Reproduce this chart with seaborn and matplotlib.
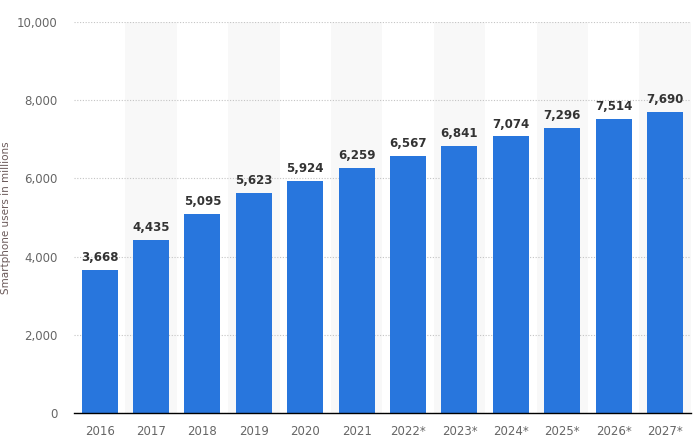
import matplotlib
matplotlib.use("Agg")
from matplotlib import pyplot as plt
import seaborn as sns
import pandas as pd

years = ["2016", "2017", "2018", "2019", "2020", "2021", "2022*", "2023*",
         "2024*", "2025*", "2026*", "2027*"]
users = [3668, 4435, 5095, 5623, 5924, 6259, 6567, 6841, 7074, 7296, 7514, 7690]
y_ticks = [0, 2000, 4000, 6000, 8000, 10000]

df = pd.DataFrame({"year": years, "users": users})

sns.set_style("white")
fig = plt.figure(figsize=(6.96, 4.47), dpi=100)
ax = fig.add_axes([0.1063, 0.0761, 0.8861, 0.8747])

# alternating background columns
for i in range(len(years)):
    if i % 2 == 1:
        ax.axvspan(i - 0.5, i + 0.5, color="#f8f8f8", zorder=0, lw=0)

sns.barplot(data=df, x="year", y="users", color="#2876dd", width=0.7,
            saturation=1, linewidth=0, edgecolor="none", ax=ax, zorder=3)

for i, v in enumerate(users):
    ax.text(i, v + 150, f"{v:,}", ha="center", va="bottom", fontsize=8.5,
            fontweight="semibold", color="#333333", zorder=4)

ax.set_xlim(-0.5, len(years) - 0.5)
ax.set_ylim(0, 10000)
ax.set_yticks(y_ticks)
ax.set_yticklabels([f"{t:,}" for t in y_ticks])
ax.yaxis.grid(True, linestyle=(0, (1, 1.5)), color="#c4c4c4", lw=0.8, zorder=1)
ax.set_axisbelow(True)
for s in ["top", "right", "left"]:
    ax.spines[s].set_visible(False)
ax.spines["bottom"].set_color("#000000")
ax.spines["bottom"].set_linewidth(1.0)
ax.spines["bottom"].set_zorder(5)
ax.tick_params(axis="both", length=0, labelsize=8.5, labelcolor="#666666")
ax.tick_params(axis="x", pad=9)
ax.tick_params(axis="y", pad=12)
ax.set_xlabel("")
ax.set_ylabel("Smartphone users in millions", fontsize=7.5, color="#6b5a5a",
              labelpad=4)

fig.savefig("out.png", dpi=100)
